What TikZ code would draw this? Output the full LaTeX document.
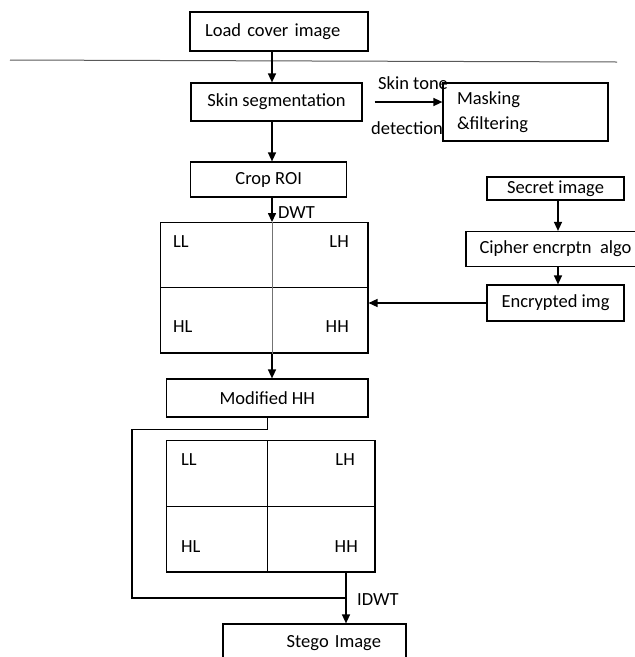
\documentclass[tikz,border=0pt]{standalone}
\usepackage{fontspec}
\setmainfont{Carlito}
\usetikzlibrary{arrows.meta}
\tikzset{
	box/.style={draw, line width=1.2pt, inner sep=0pt, font=\fontsize{18.5}{25}\selectfont},
	tag/.style={inner sep=0pt, font=\fontsize{18.5}{25}\selectfont},
	flow/.style={line width=1.4pt, -{Triangle[length=9pt,width=8pt]}},
	link/.style={line width=1.2pt},
}

\begin{document}
\begin{tikzpicture}[x=1pt, y=-1pt]
			%%%%% START %%%%%
			\clip (0, 0) rectangle (635, 657);
			
			\draw[line width=1pt, color=black!65] (10, 60) -- (617, 62);
			
			\coordinate (axis) at (272, 0);
			\coordinate (raxis) at (558, 0);
			\coordinate (bendB) at (132, 598);
			\coordinate (join) at (346, 598);
			
			\node[box, minimum height=39pt, inner xsep=15pt, text width=148pt, align=left] (load) at (279, 31.5) {Load cover image};
			\node[box, minimum width=171pt, minimum height=38pt] (skin) at (276.5, 102) {Skin segmentation};
			\node[box, minimum height=58pt, inner xsep=14pt, text width=137pt, align=left] (mask) at (525.5, 112) {Masking\\\&filtering};
			\node[box, minimum width=156pt, minimum height=35pt] (crop) at (268.7, 179.5) {Crop ROI};
			
			\node[box, minimum width=137pt, minimum height=23pt] (secret) at (555.5, 188.5) {Secret image};
			\node[box, minimum width=179pt, minimum height=35pt] (cipher) at (555.5, 249) {Cipher encrptn\ \ algo};
			\node[box, minimum width=137pt, minimum height=36pt] (enc) at (555.5, 303) {Encrypted img};
			
			\node[box, minimum width=207.3pt, minimum height=130.3pt] (dwt) at (264.3, 287.8) {};
			\draw[link] (dwt.west) -- (dwt.east);
			\node[tag, anchor=west] (dll) at (173, 242) {LL};
			\node[tag, anchor=east] (dlh) at (349, 242) {LH};
			\node[tag, anchor=west] (dhl) at (173, 327) {HL};
			\node[tag, anchor=east] (dhh) at (349, 327) {HH};
			
			\node[box, minimum width=201.3pt, minimum height=38pt] (mod) at (267.3, 398) {Modified HH};
			
			\node[box, minimum width=208.3pt, minimum height=131.3pt] (idwt) at (270.8, 506.3) {};
			\draw[link] (idwt.west) -- (idwt.east);
			\draw[link] (idwt.north -| mod.south) -- (idwt.south -| mod.south);
			\node[tag, anchor=west] (ill) at (181, 460) {LL};
			\node[tag, anchor=east] (ilh) at (355, 460) {LH};
			\node[tag, anchor=west] (ihl) at (181, 547) {HL};
			\node[tag, anchor=east] (ihh) at (358, 547) {HH};
			
			\node[box, minimum height=38pt, inner xsep=25pt, text width=133pt, align=right] (stego) at (314.5, 643) {Stego Image};
			
			\draw[flow] (load.south -| axis) -- (skin.north -| axis);
			\draw[flow] (skin.south -| axis) -- (crop.north -| axis);
			\draw[flow] (crop.south -| axis) -- (dwt.north -| axis);
			\node[tag, anchor=west] (dwtlabel) at (278, 213) {DWT};
			\draw[line width=0.8pt, color=black!55] (dwt.north -| axis) -- (dwt.south -| axis);
			\draw[flow] (dwt.south -| axis) -- (mod.north -| axis);
			
			\draw[flow] ([xshift=12pt]skin.east) -- (skin.east -| mask.west);
			\node[tag, anchor=west] (tone) at (378, 83) {Skin tone};
			\node[tag, anchor=west] (detect) at (371, 128) {detection};
			
			\draw[flow] (secret.south -| raxis) -- (cipher.north -| raxis);
			\draw[flow] (cipher.south -| raxis) -- (enc.north -| raxis);
			\draw[flow] (enc.west) -- (enc.west -| dwt.east);
			
			\draw[link] (mod.south) -- ++(0, 12) -| (bendB) -- (join);
			\draw[flow] (idwt.south -| join) -- (stego.north -| join);
			\node[tag, anchor=west] (idwtlabel) at (357, 600) {IDWT};
			
			%%%%% END %%%%%
\end{tikzpicture}
\end{document}
